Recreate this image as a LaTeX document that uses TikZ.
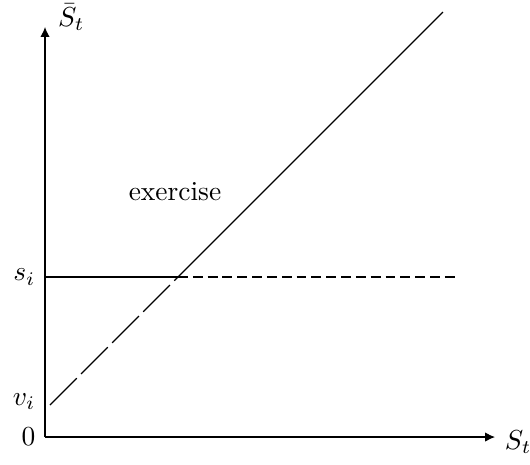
\documentclass[tikz,border=0pt]{standalone}
\usepackage{amsmath,amssymb}
\usepackage{tikz}
\usetikzlibrary{arrows.meta,positioning}
\tikzset{
  axis/.style={-{Latex[length=3.6pt,width=3.4pt]}},
  longdash/.style={dash pattern=on 13.8pt off 2.2pt},
  shortdash/.style={dash pattern=on 3.6pt off 1.8pt},
}

\begin{document}
\begin{tikzpicture}[font=\normalsize]
\useasboundingbox (-0.576,-0.346) rectangle (6.208,5.594);
\coordinate (o) at (0,0);
\coordinate (xtip) at (5.76,0);
\coordinate (ytip) at (0,5.248);
\coordinate (vi) at (0.064,0.41);
\coordinate (si) at (0,2.048);
\coordinate (cross) at (1.702,2.048);
\coordinate (send) at (5.248,2.048);
\coordinate (top) at (5.094,5.44);
% axes
\draw[axis] (o) -- (xtip);
\draw[axis] (o) -- (ytip);
\node[anchor=west,inner sep=0pt] (xlab) at (5.88,-0.07) {$S_t$};
\node[anchor=west,inner sep=0pt] (ylab) at (0.16,5.37) {$\bar{S}_t$};
\node[left] (zero) at (o) {$0$};
\node[left] (vlab) at (0,0.45) {$v_i$};
\node[left] (slab) at (si) {$s_i$};
% boundaries
\draw (si) -- (cross);
\draw[shortdash] (cross) -- (send);
\draw[longdash] (vi) -- (cross);
\draw (cross) -- (top);
\node (ex) at (1.664,3.136) {exercise};
\end{tikzpicture}
\end{document}
